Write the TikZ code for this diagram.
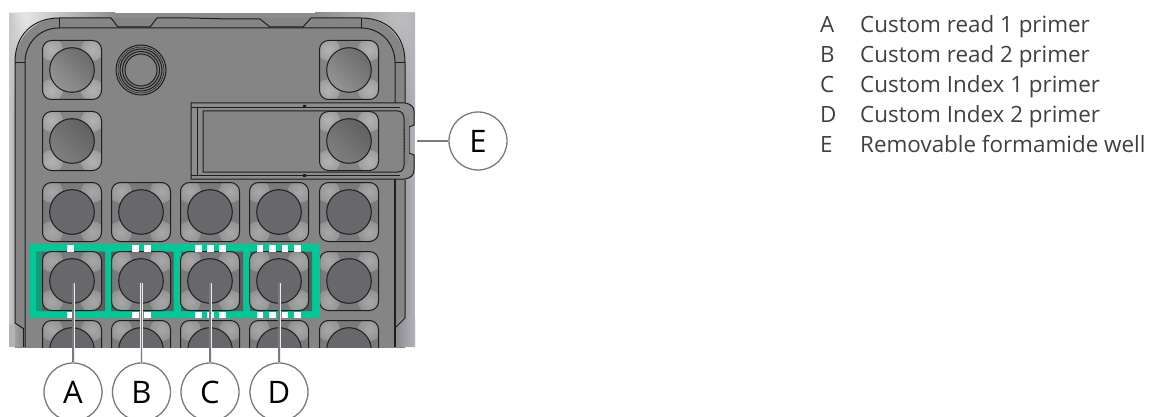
\documentclass[tikz,border=0pt]{standalone}
\usepackage{fontspec}
\setmainfont{Open Sans}
\usetikzlibrary{calc,fadings}
\definecolor{grn}{HTML}{00C896}
\definecolor{grndark}{HTML}{0F9C78}
\definecolor{bodyg}{HTML}{858585}
\definecolor{ln}{HTML}{1E1E1E}
\definecolor{lead}{HTML}{7A7A7A}
\definecolor{txt}{HTML}{404040}
\definecolor{wellc}{HTML}{67676C}
\definecolor{bgside}{HTML}{B4B4BC}
\definecolor{bgdark}{HTML}{8C8C90}
\definecolor{surrA}{HTML}{848484}
\definecolor{surrB}{HTML}{7A7A7A}
\pgfdeclareradialshading{glowA}{\pgfpoint{0bp}{0bp}}{rgb(0bp)=(0.70,0.70,0.70); rgb(18bp)=(0.64,0.64,0.64); rgb(50bp)=(0.518,0.518,0.518); rgb(72bp)=(0.518,0.518,0.518)}
\pgfdeclareradialshading{glowB}{\pgfpoint{0bp}{0bp}}{rgb(0bp)=(0.66,0.66,0.66); rgb(18bp)=(0.60,0.60,0.60); rgb(50bp)=(0.478,0.478,0.478); rgb(72bp)=(0.478,0.478,0.478)}
\tikzset{
  x=1pt,y=-1pt,
  partline/.style={draw=ln,line width=1pt},
  callout/.style={circle,draw=lead,line width=1.3pt,fill=white,minimum size=58pt,inner sep=0pt,font=\fontsize{31}{31}\selectfont,text=black},
  leader/.style={draw=lead,line width=1.6pt},
  halo/.style={draw=white!85!gray,line width=3pt},
  legend/.style={anchor=base west,inner sep=0pt,font=\fontsize{22.4}{24}\selectfont,text=txt},
  tick/.style={fill=white,draw=none},
}
% #1 x, #2 y, #3 surround colour, #4 glow shading
\newcommand{\wellbase}[4]{%
  \begin{scope}
  \clip[rounded corners=9pt] (#1-29.5,#2-29.5) rectangle (#1+29.5,#2+29.5);
  \fill[#3] (#1-29.5,#2-29.5) rectangle (#1+29.5,#2+29.5);
  \foreach \sx in {-1,1} \foreach \sy in {-1,1} {
    \shade[shading=#4] ($(#1,#2)+(\sx*20.5,\sy*20.5)$) circle (11.5);
  }
  \end{scope}
  \draw[partline,rounded corners=9pt] (#1-29.5,#2-29.5) rectangle (#1+29.5,#2+29.5);
}
\newcommand{\wellA}[4]{%
  \wellbase{#1}{#2}{surrA}{glowA}
  \draw[partline,left color=#3,right color=#4,shading angle=-45] (#1,#2) circle (22.3);
}
\newcommand{\wellB}[2]{%
  \wellbase{#1}{#2}{surrB}{glowB}
  \draw[partline,fill=wellc] (#1,#2) circle (22.3);
}
\begin{document}
\begin{tikzpicture}
\useasboundingbox (0,0) rectangle (1153,417);
\clip (0,0) rectangle (1153,417);
% render background
\begin{scope}
\clip (9,13) rectangle (415,347);
\fill[bgdark] (9,13) rectangle (415,347);
\shade[inner color=black!6,outer color=bgdark] (-85,-85) rectangle (115,115);
\shade[inner color=black!22,outer color=bgdark] (315,-85) rectangle (515,115);
\fill[black!22,path fading=east] (9,13) rectangle (26,347);
\fill[bgside,path fading=west] (396,13) rectangle (415,347);
% body
\fill[bodyg,rounded corners=45pt] (15,18) rectangle (405,420);
\fill[black!30,path fading=east] (9,325) -- (15,323) -- (24,329) -- (24,347) -- (9,347) -- cycle;
\fill[bgdark] (405,318) -- (396,327) -- (396,347) -- (415,347) -- (415,318) -- cycle;
\fill[bgside,path fading=west] (396,318) rectangle (415,347);
% outer and inner outlines
\draw[partline] (15,323) -- (15,62) .. controls (15,35) and (33,18) .. (59,18) -- (111,18) -- (118,27) -- (150,27) -- (157,18) -- (190,18) -- (230,19) -- (260,19) -- (270,27) -- (303,27) -- (311,18) -- (361,18) .. controls (387,18) and (405,35) .. (405,62) -- (405,104);
\draw[partline] (25,347) -- (25,62) .. controls (25,45) and (38,28) .. (59,28) -- (361,28) .. controls (382,28) and (395,45) .. (395,62) -- (395,104);
\draw[partline,line width=0.7pt] (15,62) -- (25,62) (59,18) -- (59,28) (361,18) -- (361,28) (395,62) -- (405,62);
\draw[partline] (15,323) -- (24,329) (405,180) -- (405,318) -- (396,327);
\draw[partline,line width=1.3pt] (395,178) -- (395,347);
\draw[partline] (23,329) -- (23,347);
\end{scope}
% knob
\draw[partline,fill=black!50] (141,70) circle (25);
\draw[partline,fill=black!50] (141,70) circle (21) circle (18.5);
\draw[partline,fill=bodyg] (141,70) circle (16);
\draw[partline,line width=0.5pt] (141,70) circle (23);
% removable well
\draw[partline,fill=black!45] (191,103) -- (405,103) .. controls (411,104) and (414,107) .. (414,111) -- (414,125) -- (409,127) -- (409,153) -- (414,155) -- (414,170) .. controls (414,175) and (411,178) .. (405,179) -- (191,179) -- cycle;
\fill[bodyg] (203,111) -- (398,111) .. controls (402,111) and (404,115) .. (404,118) -- (404,165) .. controls (404,169) and (402,172) .. (398,172) -- (203,172) -- cycle;
\fill[bodyg] (404,118) rectangle (409,165);
\draw[partline] (203,111) -- (398,111) .. controls (402,111) and (404,115) .. (404,118) -- (404,165) .. controls (404,169) and (402,172) .. (398,172) -- (203,172) -- cycle;
\draw[partline] (191,108) -- (400,108) (191,175) -- (400,175) (197,108) -- (197,175);
\draw[partline,dotted] (404,130) -- (404,152);
\fill[ln] (303,105) rectangle (306,108) (303,174) rectangle (306,177);
% wells
\wellA{72}{70}{black!58}{black!42}
\wellA{349}{70}{black!58}{black!42}
\wellA{72}{141}{black!62}{black!50}
\wellA{349}{141}{black!62}{black!50}
\foreach \cx in {72,141,210,279,349} {\wellB{\cx}{212}}
\wellB{349}{281}
% green frame
\fill[grn] (30,244) rectangle (320,318);
\fill[bodyg!70!black] (36,251.5) rectangle (105,311) (111,251.5) rectangle (173.5,311) (181,251.5) rectangle (243,311) (250,251.5) rectangle (312,311);
\fill[grndark] (36,251.5) rectangle (42,311);
\wellB{72}{281}\wellB{141}{281}\wellB{210}{281}\wellB{279}{281}
\foreach \a/\b in {67/74,132/139,144/151,195/202,207/214,219/226,257/263,269/276,282/288,294/301}{
  \fill[tick] (\a,244.5) rectangle (\b,251.5);
  \fill[tick] (\a,311.5) rectangle (\b,318);
}
% bottom clipped row
\begin{scope}
\clip (9,318) rectangle (415,347);
\foreach \cx in {72,141,210,279,349} {\wellB{\cx}{350}}
\end{scope}
% callouts
\node[callout] (A) at (73,392) {A};
\node[callout] (B) at (141.5,392) {B};
\node[callout] (C) at (210,392) {C};
\node[callout] (D) at (279,392) {D};
\node[callout] (E) at (478,141) {E};
\coordinate (wa) at (73,283);
\coordinate (wb) at (141.5,283);
\coordinate (wc) at (210,283);
\coordinate (wd) at (279,283);
\coordinate (we) at (417,141);
\foreach \n/\w in {A/wa,B/wb,C/wc,D/wd}{
  \draw[halo] (\n.north) -- (\w);
  \draw[leader] (\n.north) -- (\w);
}
\draw[leader] (E.west) -- (we);
% legend
\foreach \k/\l/\t/\y in {a/A/Custom read 1 primer/33,b/B/Custom read 2 primer/63,c/C/Custom Index 1 primer/93,d/D/Custom Index 2 primer/123,e/E/Removable formamide well/153}{
  \node[legend] (k\k) at (820,\y) {\l};
  \node[legend] (t\k) at (860,\y) {\t};
}
\end{tikzpicture}
\end{document}
